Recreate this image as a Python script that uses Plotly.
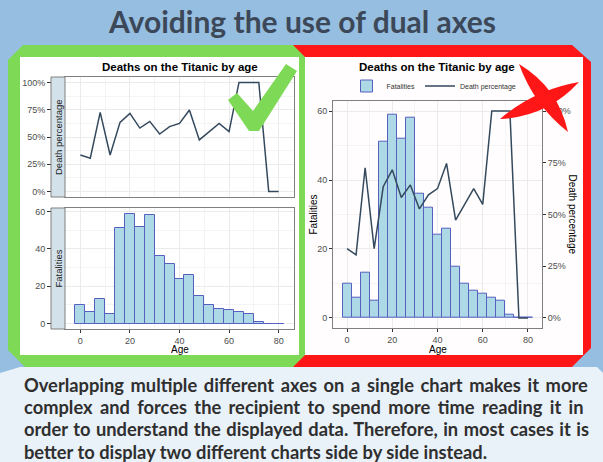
import plotly.graph_objects as go

# canvas size in px, used to place frames and labels in paper coords
W, H = 603, 462


def px(x):
    return x / W


def py(y):
    return 1 - y / H


def path(points):
    # points in pixel coords -> svg path in paper coords
    s = 'M {} {}'.format(px(points[0][0]), py(points[0][1]))
    for p in points[1:]:
        s += ' L {} {}'.format(px(p[0]), py(p[1]))
    return s + ' Z'


def lens(a, b, half, bend):
    # tapered brush stroke from a to b
    mx, my = (a[0] + b[0]) / 2, (a[1] + b[1]) / 2
    dx, dy = b[0] - a[0], b[1] - a[1]
    n = (dx ** 2 + dy ** 2) ** 0.5
    nx, ny = -dy / n, dx / n
    c1 = (mx + nx * (2 * half + bend), my + ny * (2 * half + bend))
    c2 = (mx - nx * (2 * half - bend), my - ny * (2 * half - bend))
    return 'M {} {} Q {} {} {} {} Q {} {} {} {} Z'.format(
        px(a[0]), py(a[1]), px(c1[0]), py(c1[1]), px(b[0]), py(b[1]),
        px(c2[0]), py(c2[1]), px(a[0]), py(a[1]))


# %% data
ages = [0, 4, 8, 12, 16, 20, 24, 28, 32, 36, 40, 44, 48, 52, 56, 60, 64, 68, 72, 76, 80]
fatalities = [10, 6, 13, 5, 51, 59, 52, 58, 36, 32, 24, 26, 15, 10, 8, 7, 6, 5, 1, 0, 0]
death_pct = [33.5, 30.5, 72.6, 33.5, 63.4, 71.6, 58.2, 64.3, 52.7, 59.5, 62.5, 74.7,
             47.3, 54.9, 62.5, 54.9, 100, 100, 100, 0, 0]

pct_ticks = [0, 25, 50, 75, 100]
pct_labels = ['0%', '25%', '50%', '75%', '100%']
cnt_ticks = [0, 20, 40, 60]
age_ticks = [0, 20, 40, 60, 80]

headline = 'Avoiding the use of dual axes'
chart_title = 'Deaths on the Titanic by age'
body_lines = [
    'Overlapping multiple different axes on a single chart makes it more',
    'complex and forces the recipient to spend more time reading it in',
    'order to understand the displayed data. Therefore, in most cases it is',
    'better to display two different charts side by side instead.',
]
# extra word spacing (px) so the paragraph looks justified
body_spacing = [2.2, 2.9, 1.1, 0]

# %% colours
BG = '#95bee1'
GREEN = '#7ed957'
RED = '#ff1616'
BAR_FILL = '#add8e6'
BAR_LINE = '#5560c0'
LINE = '#34495e'
GRID = '#ebebeb'
TICK = '#4d4d4d'
STRIP = '#d3e2ea'

fig = go.Figure()

# left: two stacked panels
fig.add_trace(go.Scatter(x=ages, y=death_pct, mode='lines', line=dict(color=LINE, width=1.5),
                         xaxis='x', yaxis='y', showlegend=False))
fig.add_trace(go.Bar(x=ages, y=fatalities, width=4, marker=dict(color=BAR_FILL, line=dict(color=BAR_LINE, width=1)),
                     xaxis='x2', yaxis='y2', showlegend=False))

# right: the dual axes version
fig.add_trace(go.Bar(x=ages, y=fatalities, width=4, name='Fatalities',
                     marker=dict(color=BAR_FILL, line=dict(color=BAR_LINE, width=1)),
                     xaxis='x3', yaxis='y3'))
fig.add_trace(go.Scatter(x=ages, y=death_pct, mode='lines', name='Death percentage',
                         line=dict(color=LINE, width=1.5), xaxis='x3', yaxis='y4'))

tick_font = dict(family='Liberation Sans', size=9, color=TICK)
xr = [-6.2, 86.2]


def xax(dom, labels, anchor):
    return dict(domain=dom, range=xr, anchor=anchor, tickvals=age_ticks,
                showticklabels=labels, ticks='outside' if labels else '', ticklen=3,
                tickcolor='#333333', tickfont=tick_font, showgrid=True, gridcolor=GRID,
                minor=dict(dtick=10, tick0=0, showgrid=True, gridcolor='#f4f4f4', ticks=''),
                showline=True, mirror=True, linecolor='#808080', linewidth=1, zeroline=False)


def yax(dom, rng, vals, anchor, texts=None, ticklen=3):
    d = dict(domain=dom, range=rng, anchor=anchor, tickvals=vals,
             ticks='outside', ticklen=ticklen,
             tickcolor='#333333', tickfont=tick_font, showgrid=True, gridcolor=GRID,
             minor=dict(dtick=(vals[1] - vals[0]) / 2, tick0=0, showgrid=True, gridcolor='#f4f4f4', ticks=''),
             showline=True, mirror=True, linecolor='#808080', linewidth=1, zeroline=False)
    if texts:
        d['ticktext'] = texts
    return d


left_dom = [px(65), px(294)]
top_dom = [py(197), py(77)]
bot_dom = [py(329), py(208)]
right_dom = [px(333), px(542)]
right_ydom = [py(328.3), py(100.7)]

fig.update_layout(
    # long ticks on the left panels: the facet strip is drawn over their inner part
    xaxis=xax(left_dom, False, 'y'),
    yaxis=yax(top_dom, [-5, 105], pct_ticks, 'x', pct_labels, ticklen=17),
    xaxis2=xax(left_dom, True, 'y2'),
    yaxis2=yax(bot_dom, [-2.95, 61.95], cnt_ticks, 'x2', ticklen=17),
    xaxis3=xax(right_dom, True, 'y3'),
    yaxis3=yax(right_ydom, [-3, 63], cnt_ticks, 'x3'),
    yaxis4=dict(overlaying='y3', side='right', anchor='x3', range=[-5, 105], tickvals=pct_ticks,
                ticktext=pct_labels, ticks='outside', ticklen=3, tickcolor='#333333', tickfont=tick_font,
                showgrid=False, zeroline=False, showline=False),
)

shapes = [
    # frames
    dict(type='path', path=path([(290, 45), (572, 45), (591, 62), (591, 348), (572, 367), (290, 367)]),
         fillcolor=RED, layer='below'),
    dict(type='path', path=path([(8, 60), (23, 45), (293, 45), (305, 57), (305, 355), (293, 367),
                                 (25, 367), (8, 350)]),
         fillcolor=GREEN, layer='below'),
    dict(type='rect', x0=px(20), x1=px(299), y0=py(355), y1=py(57), fillcolor='white', layer='below'),
    dict(type='rect', x0=px(305), x1=px(583), y0=py(355), y1=py(57), fillcolor='#fffdfd', layer='below'),
    # text box at the bottom
    dict(type='path', path=path([(0, 373), (20, 367), (597, 367), (603, 373), (603, 462), (0, 462)]),
         fillcolor='#e9f1f9', layer='below'),
    # check mark
    dict(type='path', path=path([(228, 100), (237, 93), (253, 111), (286, 64), (297, 71), (259, 131), (249, 131)]),
         fillcolor=GREEN, layer='above'),
    # red cross
    dict(type='path', path=lens((500, 119), (579, 82), 7.5, 3), fillcolor=RED, layer='above'),
    dict(type='path', path=lens((519, 64), (568, 132), 7.5, -3), fillcolor=RED, layer='above'),
]
for s in shapes:
    s.update(xref='paper', yref='paper', line=dict(width=0))
# facet strips
for top, bot in [(77, 197), (208, 329)]:
    shapes.append(dict(type='rect', xref='paper', yref='paper', x0=px(51), x1=px(65), y0=py(bot), y1=py(top),
                       fillcolor=STRIP, line=dict(color='#808080', width=1), layer='above'))

annotations = [
    dict(x=px(302), y=py(21), text='<b>' + headline + '</b>',
         font=dict(family='Lato', size=30, color='#3c4858')),
    dict(x=px(180), y=py(67), text='<b>' + chart_title + '</b>', font=dict(family='Liberation Sans', size=11.5, color='black')),
    dict(x=px(437), y=py(67), text='<b>' + chart_title + '</b>', font=dict(family='Liberation Sans', size=11.5, color='black')),
    dict(x=px(58), y=py(137), text='Death percentage', textangle=-90,
         font=dict(family='Liberation Sans', size=9.5, color='#1a1a1a')),
    dict(x=px(58), y=py(268.5), text='Fatalities', textangle=-90,
         font=dict(family='Liberation Sans', size=9.5, color='#1a1a1a')),
    dict(x=px(180), y=py(349.5), text='Age', font=dict(family='Liberation Sans', size=10, color='black')),
    dict(x=px(437.5), y=py(349.5), text='Age', font=dict(family='Liberation Sans', size=10, color='black')),
    dict(x=px(313), y=py(214.5), text='Fatalities', textangle=-90,
         font=dict(family='Liberation Sans', size=10, color='black')),
    dict(x=px(572), y=py(214.5), text='Death percentage', textangle=90,
         font=dict(family='Liberation Sans', size=10, color='black')),
]
for i, line in enumerate(body_lines):
    txt = '<span style="word-spacing:{}px"><b>{}</b></span>'.format(body_spacing[i], line)
    annotations.append(dict(x=px(22), y=py(385 + i * 22.2), xanchor='left', text=txt,
                            font=dict(family='Lato', size=18.3, color='#2f2f2f')))
for a in annotations:
    a.update(xref='paper', yref='paper', showarrow=False)
    a.setdefault('xanchor', 'center')
    a.setdefault('yanchor', 'middle')

fig.update_layout(
    width=W, height=H, autosize=False,
    margin=dict(l=0, r=0, t=0, b=0),
    paper_bgcolor=BG, plot_bgcolor='white',
    bargap=0,
    shapes=shapes,
    annotations=annotations,
    legend=dict(orientation='h', x=px(434), xanchor='center', y=py(86), yanchor='middle',
                font=dict(family='Liberation Sans', size=7, color='#333333'),
                bgcolor='rgba(0,0,0,0)', itemwidth=30),
)

# page has a default body margin, drop it so the figure sits at the top-left corner
fig.write_html("out.html", config={'displayModeBar': False},
               post_script="document.body.style.margin = '0px';")
